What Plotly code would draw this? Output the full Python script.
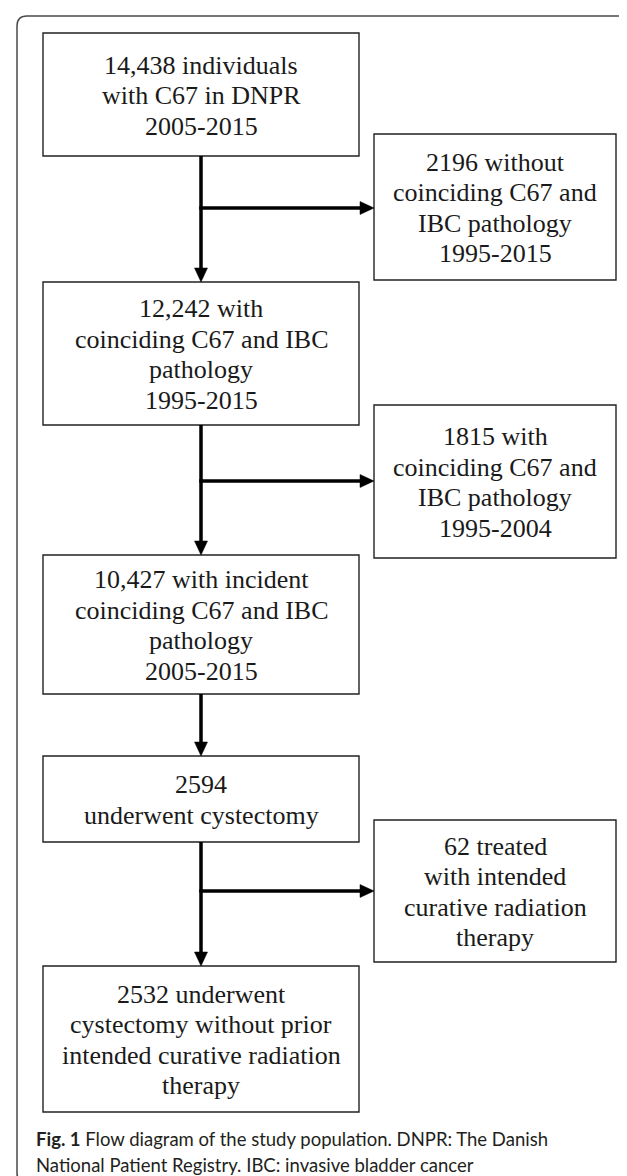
import plotly.graph_objects as go

# ---- data: flow-diagram box texts (one entry per line) ----
main_steps = [
    ["14,438 individuals", "with C67 in DNPR", "2005-2015"],
    ["12,242 with", "coinciding C67 and IBC", "pathology", "1995-2015"],
    ["10,427 with incident", "coinciding C67 and IBC", "pathology", "2005-2015"],
    ["2594", "underwent cystectomy"],
    ["2532 underwent", "cystectomy without prior", "intended curative radiation", "therapy"],
]
excluded_steps = [
    ["2196 without", "coinciding C67 and", "IBC pathology", "1995-2015"],
    ["1815 with", "coinciding C67 and", "IBC pathology", "1995-2004"],
    None,
    ["62 treated", "with intended", "curative radiation", "therapy"],
]
caption_lines = [
    "<b>Fig. 1</b> Flow diagram of the study population. DNPR: The Danish",
    "National Patient Registry. IBC: invasive bladder cancer",
]

# ---- layout geometry (pixels) ----
W, H = 627, 1176
main_x = (35, 351)
excl_x = (366, 608)
main_y = [(25, 148), (274, 417), (547, 686), (748, 834), (958, 1104)]
excl_y = [(126, 272), (397, 550), None, (812, 954)]
branch_y = [200, 473, None, 883]
stem_x = 193
LINE_H = 30.5
BOX_FONT = dict(family="Liberation Serif, Times New Roman, serif", size=26, color="#1a1a1a")
BOX_LINE = dict(color="#222222", width=1.4)
ARROW_W = 3.5
HEAD_L, HEAD_HW = 14, 6.5

fig = go.Figure()
shapes = []
annotations = []

def add_box(x0, x1, y0, y1, lines):
    shapes.append(dict(type="rect", x0=x0, x1=x1, y0=y0, y1=y1, line=BOX_LINE,
                       fillcolor="white", layer="above"))
    cy = (y0 + y1) / 2 + 1
    n = len(lines)
    for i, t in enumerate(lines):
        annotations.append(dict(x=(x0 + x1) / 2, y=cy + (i - (n - 1) / 2) * LINE_H, text=t,
                                showarrow=False, xanchor="center", yanchor="middle",
                                font=BOX_FONT))

for (y0, y1), lines in zip(main_y, main_steps):
    add_box(main_x[0], main_x[1], y0, y1, lines)
for yy, lines in zip(excl_y, excluded_steps):
    if lines is not None:
        add_box(excl_x[0], excl_x[1], yy[0], yy[1], lines)

# vertical arrows between main boxes, with side branches to the excluded boxes
for k in range(len(main_y) - 1):
    ya = main_y[k][1]
    yb = main_y[k + 1][0]
    shapes.append(dict(type="line", x0=stem_x, x1=stem_x, y0=ya, y1=yb - HEAD_L + 2,
                       line=dict(color="black", width=ARROW_W)))
    shapes.append(dict(type="path",
                       path=f"M {stem_x - HEAD_HW},{yb - HEAD_L} L {stem_x + HEAD_HW},{yb - HEAD_L} L {stem_x},{yb} Z",
                       fillcolor="black", line=dict(color="black", width=0.5)))
    by = branch_y[k]
    if by is not None:
        xe = excl_x[0]
        shapes.append(dict(type="line", x0=stem_x - ARROW_W / 2, x1=xe - HEAD_L + 2, y0=by, y1=by,
                           line=dict(color="black", width=ARROW_W)))
        shapes.append(dict(type="path",
                           path=f"M {xe - HEAD_L},{by - HEAD_HW} L {xe - HEAD_L},{by + HEAD_HW} L {xe},{by} Z",
                           fillcolor="black", line=dict(color="black", width=0.5)))

# outer rounded frame
r = 10
fx0, fx1, fy0, fy1 = 9, 627, 8, 1175
frame = (f"M {fx0},{fy0 + r} Q {fx0},{fy0} {fx0 + r},{fy0} L {fx1 - r},{fy0} "
         f"Q {fx1},{fy0} {fx1},{fy0 + r} L {fx1},{fy1 - r} Q {fx1},{fy1} {fx1 - r},{fy1} "
         f"L {fx0 + r},{fy1} Q {fx0},{fy1} {fx0},{fy1 - r} Z")
shapes.insert(0, dict(type="path", path=frame, line=dict(color="#4a4a4a", width=1.5)))

# caption
cap_y = [1131, 1157]
for t, yy in zip(caption_lines, cap_y):
    annotations.append(dict(x=26, y=yy, text=t, showarrow=False, xanchor="left", yanchor="middle",
                            font=dict(family="Lato, Open Sans, sans-serif", size=18.5, color="#231f20")))

fig.update_layout(
    width=W, height=H, margin=dict(l=0, r=0, t=0, b=0),
    paper_bgcolor="white", plot_bgcolor="white",
    xaxis=dict(range=[0, W], visible=False, fixedrange=True),
    yaxis=dict(range=[H, 0], visible=False, fixedrange=True),
    shapes=shapes, annotations=annotations, showlegend=False,
)
fig.write_html("out.html")
